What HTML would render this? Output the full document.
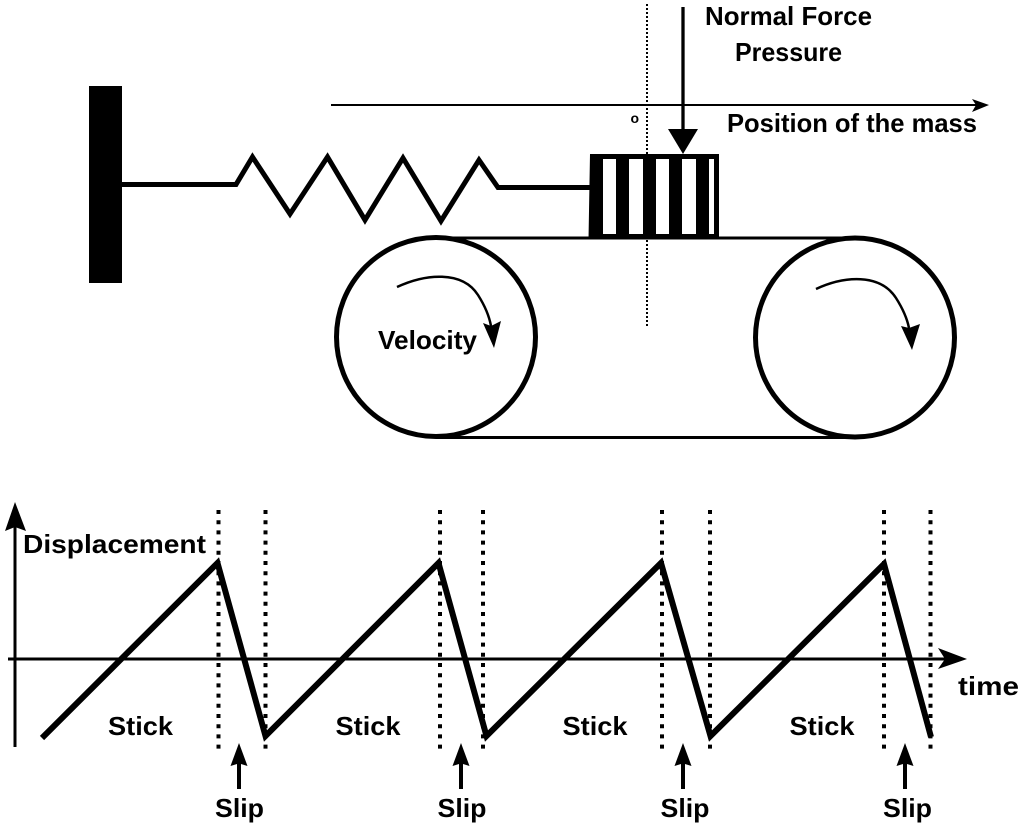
<!DOCTYPE html>
<html>
<head>
<meta charset="utf-8">
<style>
html,body{margin:0;padding:0;background:#fff;width:1024px;height:829px;overflow:hidden}
svg{display:block}
text{font-family:"Liberation Sans",sans-serif;font-weight:bold;fill:#000;font-size:26px}
</style>
</head>
<body>
<svg width="1024" height="829" viewBox="0 0 1024 829" xmlns="http://www.w3.org/2000/svg">
<rect width="1024" height="829" fill="#fff"/>
<!-- wall -->
<rect x="89" y="86" width="33" height="197" fill="#000"/>
<!-- spring -->
<polyline points="122,184.500 236,184.500 252.500,157 290,214 327.500,157 365,220 403,158 441,221 479,160 498,187.500 592,187.500" fill="none" stroke="#000" stroke-width="5"/>
<!-- dotted centre -->
<line x1="647" y1="4" x2="647" y2="326" stroke="#000" stroke-width="2" stroke-dasharray="2 2"/>
<!-- position axis -->
<line x1="331" y1="105" x2="978" y2="105" stroke="#000" stroke-width="2"/>
<polygon points="989,105 972,99 976,105 972,112" fill="#000"/>
<!-- belt -->
<line x1="436" y1="238" x2="856" y2="238" stroke="#000" stroke-width="3"/>
<line x1="436" y1="437.500" x2="856" y2="437.500" stroke="#000" stroke-width="3"/>
<circle cx="436" cy="337" r="99.500" fill="#fff" stroke="#000" stroke-width="5"/>
<circle cx="855" cy="337.500" r="99.500" fill="#fff" stroke="#000" stroke-width="5"/>
<!-- mass -->
<polygon points="590,154 719,154 719,238 602,238 602,239.500 588.500,239.500" fill="#000"/>
<rect x="603" y="159" width="13" height="75" fill="#fff"/>
<rect x="629" y="159" width="14" height="75" fill="#fff"/>
<rect x="656" y="159" width="13" height="75" fill="#fff"/>
<rect x="682" y="159" width="14" height="75" fill="#fff"/>
<rect x="709" y="159" width="5" height="75" fill="#fff"/>
<!-- normal force arrow -->
<line x1="683" y1="7" x2="683" y2="132" stroke="#000" stroke-width="3.300"/>
<polygon points="668,129 698,129 683,154" fill="#000"/>
<!-- rotation arrows -->
<path d="M397,287 C425,274 462,270 478,295 C485,306 489,315 491,326" fill="none" stroke="#000" stroke-width="2.500"/>
<polygon points="494,348 483,323 491,326 501,321" fill="#000"/>
<path d="M816,289 C844,276 880,273 896,298 C903,309 907,318 909,328" fill="none" stroke="#000" stroke-width="2.500"/>
<polygon points="912,350 901,326 909,328 920,324" fill="#000"/>
<!-- lower axes -->
<line x1="15" y1="747" x2="15" y2="525" stroke="#000" stroke-width="3"/>
<polygon points="15,502 26,531 15,527 5,531" fill="#000"/>
<line x1="8" y1="659" x2="945" y2="659" stroke="#000" stroke-width="3"/>
<polygon points="967,659 938,648 945,659 938,669" fill="#000"/>
<!-- dotted verticals -->
<g stroke="#000" stroke-width="4" stroke-dasharray="4 6.200">
<line x1="218.500" y1="510" x2="218.500" y2="750"/>
<line x1="265.500" y1="510" x2="265.500" y2="750"/>
<line x1="440" y1="510" x2="440" y2="750"/>
<line x1="483" y1="510" x2="483" y2="750"/>
<line x1="662" y1="510" x2="662" y2="750"/>
<line x1="710" y1="510" x2="710" y2="750"/>
<line x1="884" y1="510" x2="884" y2="750"/>
<line x1="930.500" y1="510" x2="930.500" y2="750"/>
</g>
<!-- sawtooth -->
<polyline points="42,738 217.500,563 265.500,736 438.500,563 486.500,736 661,563 710.500,736 884,564 931,737" fill="none" stroke="#000" stroke-width="6" stroke-linejoin="miter"/>
<!-- slip arrows -->
<g fill="#000">
<polygon points="239,743 247.500,766 241,764 241,789 237,789 237,764 230.500,766"/>
<polygon points="461,743 469.500,766 463,764 463,789 459,789 459,764 452.500,766"/>
<polygon points="683,743 691.500,766 685,764 685,789 681,789 681,764 674.500,766"/>
<polygon points="905,743 913.500,766 907,764 907,789 903,789 903,764 896.500,766"/>
</g>
<!-- labels -->
<text x="705" y="25" textLength="167" lengthAdjust="spacingAndGlyphs">Normal Force</text>
<text x="735" y="61" textLength="107" lengthAdjust="spacingAndGlyphs">Pressure</text>
<text x="727" y="132" textLength="250" lengthAdjust="spacingAndGlyphs">Position of the mass</text>
<text x="630.500" y="123" style="font-size:14px">o</text>
<text x="378" y="349" textLength="99" lengthAdjust="spacingAndGlyphs">Velocity</text>
<text x="23" y="553" textLength="183" lengthAdjust="spacingAndGlyphs">Displacement</text>
<text x="958" y="695" textLength="61" lengthAdjust="spacingAndGlyphs">time</text>
<text x="108" y="735" textLength="65" lengthAdjust="spacingAndGlyphs">Stick</text>
<text x="335.500" y="735" textLength="65" lengthAdjust="spacingAndGlyphs">Stick</text>
<text x="562.500" y="735" textLength="65" lengthAdjust="spacingAndGlyphs">Stick</text>
<text x="789.500" y="735" textLength="65" lengthAdjust="spacingAndGlyphs">Stick</text>
<text x="215" y="817" textLength="49" lengthAdjust="spacingAndGlyphs">Slip</text>
<text x="437.500" y="817" textLength="49" lengthAdjust="spacingAndGlyphs">Slip</text>
<text x="660.500" y="817" textLength="49" lengthAdjust="spacingAndGlyphs">Slip</text>
<text x="883" y="817" textLength="49" lengthAdjust="spacingAndGlyphs">Slip</text>
</svg>
</body>
</html>
